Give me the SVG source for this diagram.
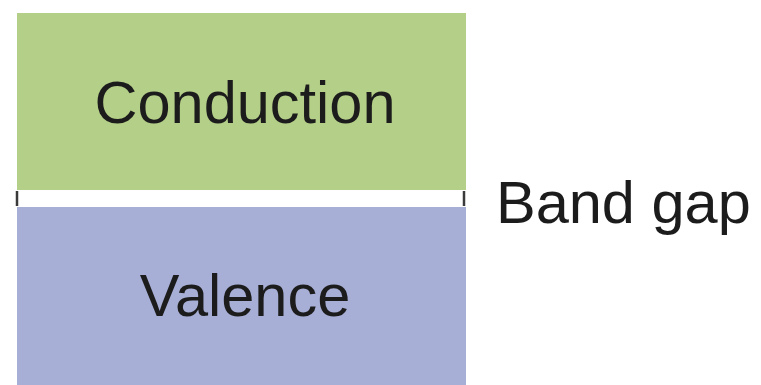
<svg xmlns="http://www.w3.org/2000/svg" width="761" height="385" viewBox="0 0 761 385">
  <style>
    .label { font-family: "Liberation Sans", Arial, sans-serif; font-size: 59.5px; fill: #1c1c1c; }
    .tick { stroke: #3a3a3a; stroke-width: 2.5; }
  </style>
  <rect x="0" y="0" width="761" height="385" fill="#ffffff"/>
  <g id="conduction">
    <rect x="17" y="13" width="449" height="177" fill="#b4cf88"/>
    <text class="label" x="245" y="123" text-anchor="middle" fill="#1a2410">Conduction</text>
  </g>
  <g id="valence">
    <rect x="17" y="207" width="449" height="178" fill="#a8afd7"/>
    <text class="label" x="245" y="316" text-anchor="middle">Valence</text>
  </g>
  <g id="band-gap">
    <line class="tick" x1="17" y1="191" x2="17" y2="206"/>
    <line class="tick" x1="464" y1="191" x2="464" y2="206"/>
    <text class="label" x="496" y="223">Band gap</text>
  </g>
</svg>
